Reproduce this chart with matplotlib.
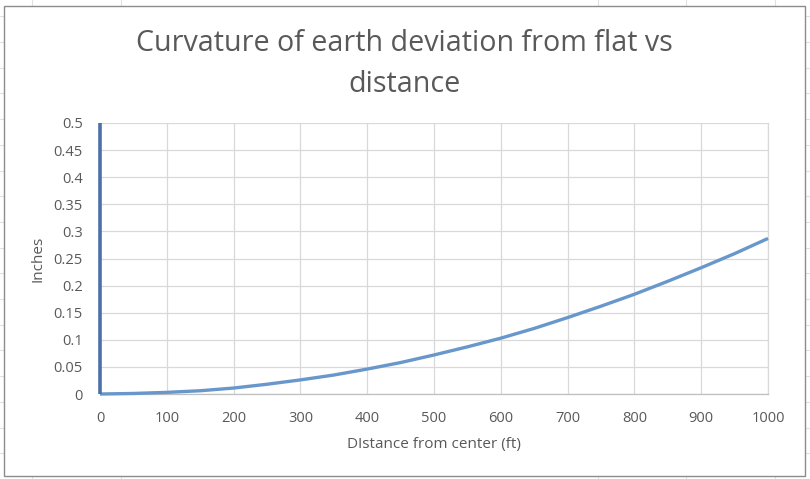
import matplotlib
matplotlib.use("Agg")
import matplotlib.pyplot as plt
from matplotlib.lines import Line2D
from matplotlib.patches import Rectangle

# Data
distance_ft = [0, 50, 100, 150, 200, 250, 300, 350, 400, 450, 500,
               550, 600, 650, 700, 750, 800, 850, 900, 950, 1000]
deviation_in = [0.0, 0.001, 0.003, 0.006, 0.011, 0.018, 0.026, 0.035, 0.046, 0.058, 0.072,
                0.087, 0.103, 0.121, 0.141, 0.162, 0.184, 0.208, 0.233, 0.259, 0.287]
vert_x = [0, 0]
vert_y = [0, 0.5]
x_ticks = [0, 100, 200, 300, 400, 500, 600, 700, 800, 900, 1000]
y_ticks = [0, 0.05, 0.1, 0.15, 0.2, 0.25, 0.3, 0.35, 0.4, 0.45, 0.5]
y_tick_labels = ["0", "0.05", "0.1", "0.15", "0.2", "0.25", "0.3", "0.35", "0.4", "0.45", "0.5"]

W, H = 810, 479
fig = plt.figure(figsize=(W / 100, H / 100), dpi=100)
plt.rcParams['font.family'] = ['Open Sans', 'DejaVu Sans']

# spreadsheet background grid
for yy in [16, 42, 68, 93, 119, 145, 171, 196, 222, 248, 273, 299, 325, 350, 376, 402, 428, 453]:
    fig.add_artist(Line2D([0, 1], [1 - yy / H, 1 - yy / H], color='#e1e1e1', lw=0.8, zorder=0))
for xx in [32, 121, 598, 686, 775]:
    fig.add_artist(Line2D([xx / W, xx / W], [0, 1], color='#e1e1e1', lw=0.8, zorder=0))

# chart area
fig.add_artist(Rectangle((4 / W, 1 - 476 / H), 801 / W, 470 / H, transform=fig.transFigure,
                         facecolor='white', edgecolor='#8c8c8c', lw=1.0, zorder=1))

left, right, top, bottom = 100, 768, 123, 394
ax = fig.add_axes([left / W, 1 - bottom / H, (right - left) / W, (bottom - top) / H], zorder=2)
ax.set_facecolor('none')

ax.plot(distance_ft, deviation_in, color='#6897CB', lw=2.4, solid_capstyle='butt',
        solid_joinstyle='round', zorder=3, clip_on=False)
ax.plot(vert_x, vert_y, color='#4C70AA', lw=2.6, solid_capstyle='butt', zorder=4, clip_on=False)

ax.set_xlim(0, 1000)
ax.set_ylim(0, 0.5)
ax.set_xticks(x_ticks)
ax.set_yticks(y_ticks)
ax.set_yticklabels(y_tick_labels)
ax.grid(True, color='#d9d9d9', lw=0.9)
ax.set_axisbelow(True)
for s in ['left', 'top']:
    ax.spines[s].set_visible(False)
ax.spines['right'].set_color('#d9d9d9')
ax.spines['right'].set_linewidth(0.9)
ax.spines['bottom'].set_color('#bfbfbf')
ax.spines['bottom'].set_linewidth(0.9)
ax.tick_params(length=0, labelsize=10.5, labelcolor='#595959')
ax.tick_params(axis='y', pad=12.5)
ax.tick_params(axis='x', pad=12)

ax.set_xlabel('DIstance from center (ft)', fontsize=11, color='#595959', labelpad=8)
ax.set_ylabel('Inches', fontsize=11, color='#595959', labelpad=6)

fig.text(404 / W, 1 - 64 / H, 'Curvature of earth deviation from flat vs\ndistance',
         ha='center', va='center', fontsize=20.6, color='#595959', linespacing=1.52, zorder=3)

fig.savefig('out.png', dpi=100)
